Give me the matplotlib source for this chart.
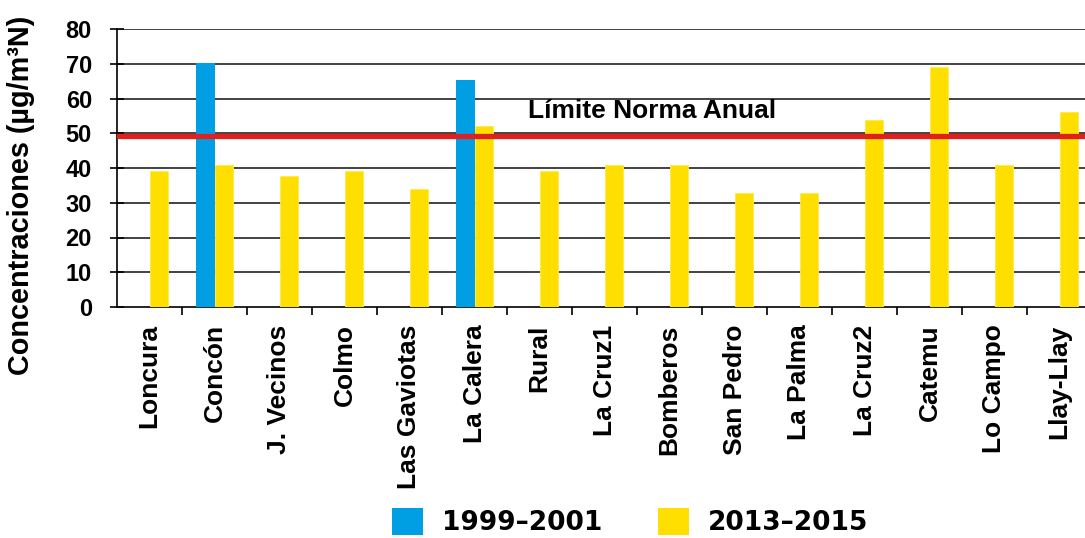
import matplotlib
matplotlib.use("Agg")
import matplotlib.pyplot as plt
from matplotlib.patches import Patch
import numpy as np

categories = ["Loncura", "Concón", "J. Vecinos", "Colmo", "Las Gaviotas", "La Calera",
              "Rural", "La Cruz1", "Bomberos", "San Pedro", "La Palma", "La Cruz2",
              "Catemu", "Lo Campo", "Llay-Llay"]
series_1999 = [np.nan, 70.2, np.nan, np.nan, np.nan, 65.2, np.nan, np.nan, np.nan,
               np.nan, np.nan, np.nan, np.nan, np.nan, np.nan]
series_2013 = [39.1, 41.0, 37.8, 39.1, 34.1, 52.1, 39.1, 41.0, 41.0, 32.8, 32.8,
               53.8, 69.0, 41.0, 56.2]
limit_value = 49.3
limit_label = "Límite Norma Anual"
legend_labels = ["1999–2001", "2013–2015"]
yticks = [0, 10, 20, 30, 40, 50, 60, 70, 80]

plt.rcParams['font.family'] = ['Liberation Sans', 'DejaVu Sans']

fig = plt.figure(figsize=(10.85, 5.38), dpi=100)
ax = fig.add_axes([117/1085, 1-307/538, (1092-117)/1085, (307-29)/538])

blue = "#009FE3"
yellow = "#FFDF00"
x = np.arange(len(categories))
w = 0.28
ax.bar(x + 0.5 - w, series_1999, width=w, align='edge', color=blue, zorder=3)
ax.bar(x + 0.5, series_2013, width=w, align='edge', color=yellow,
       edgecolor="#FFE94D", linewidth=0.6, zorder=3)

ax.set_xlim(0, len(categories))
ax.set_ylim(0, 80)
ax.set_yticks(yticks)
ax.set_yticklabels([str(t) for t in yticks], fontsize=17, fontweight='bold')
ax.set_xticks(x + 1)
ax.set_xticklabels([])
for i, c in enumerate(categories):
    ax.text(i + 0.5, -5.0, c, rotation=90, ha='center', va='top', fontsize=19,
            fontweight='bold', transform=ax.transData, clip_on=False)

for t in yticks[1:]:
    ax.axhline(t, color='#222222', linewidth=1.2, zorder=1)
ax.axhline(limit_value, color='#E0201F', linewidth=3.8, zorder=4)
ax.text(6.32, 56.5, limit_label, fontsize=19, fontweight='bold', va='center',
        ha='left', zorder=5)

for s in ['top', 'right']:
    ax.spines[s].set_visible(False)
ax.spines['left'].set_linewidth(1.2)
ax.spines['bottom'].set_linewidth(1.2)
ax.tick_params(axis='y', direction='inout', length=10, width=1.2, pad=13)
ax.tick_params(axis='x', direction='out', length=6, width=1.2)

fig.text(21/1085, 1-195/538, "Concentraciones (µg/m³N)", rotation=90, ha='center',
         va='center', fontsize=20.8, fontweight='bold')

handles = [Patch(facecolor=blue), Patch(facecolor=yellow)]
leg = fig.legend(handles, legend_labels, loc='center', bbox_to_anchor=(630/1085, 1-522/538),
                 ncol=2, frameon=False, handlelength=1.2, handleheight=1.2,
                 handletextpad=0.7, columnspacing=2.1,
                 prop={'family': ['DejaVu Sans'], 'weight': 'bold', 'size': 19})

fig.savefig("out.png", dpi=100)
